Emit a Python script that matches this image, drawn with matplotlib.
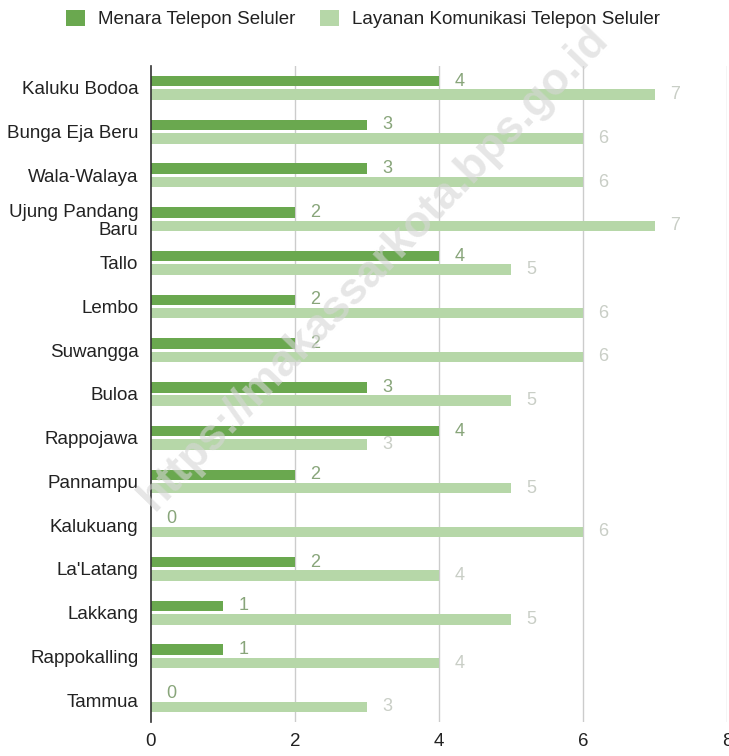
import matplotlib.pyplot as plt
import numpy as np
from matplotlib.patches import Patch

plt.rcParams['font.family'] = ['Liberation Sans', 'DejaVu Sans']

# data
kelurahan = ['Kaluku Bodoa', 'Bunga Eja Beru', 'Wala-Walaya', 'Ujung Pandang\nBaru',
             'Tallo', 'Lembo', 'Suwangga', 'Buloa', 'Rappojawa', 'Pannampu',
             'Kalukuang', "La'Latang", 'Lakkang', 'Rappokalling', 'Tammua']
menara = [4, 3, 3, 2, 4, 2, 2, 3, 4, 2, 0, 2, 1, 1, 0]
layanan = [7, 6, 6, 7, 5, 6, 6, 5, 3, 5, 6, 4, 5, 4, 3]
x_ticks = [0, 2, 4, 6, 8]

dark = '#6aa84f'
light = '#b6d7a8'

fig = plt.figure(figsize=(7.29, 7.56), dpi=100)
ax = fig.add_axes([151 / 729, 1 - 722 / 756, 576 / 729, 656 / 756])

y = np.arange(len(kelurahan))
h = 0.24
off = 0.153

ax.barh(y - off, menara, height=h, color=dark, zorder=2)
ax.barh(y + off, layanan, height=h, color=light, zorder=2)

# value labels
for yi, v in zip(y, menara):
    ax.annotate(str(v), (v, yi - off), xytext=(11, 0), textcoords='offset points',
                ha='left', va='center', fontsize=13, color='#88a57a')
for yi, v in zip(y, layanan):
    ax.annotate(str(v), (v, yi + off), xytext=(11, 0), textcoords='offset points',
                ha='left', va='center', fontsize=13, color='#c9cec6')

ax.set_xlim(0, 8)
ax.set_ylim(len(kelurahan) - 0.5, -0.5)
ax.set_xticks(x_ticks)
ax.set_xticklabels([str(t) for t in x_ticks], fontsize=13.5, color='#222222')
ax.set_yticks(y)
ax.set_yticklabels(kelurahan, fontsize=13.5, color='#222222', linespacing=1.05)
ax.tick_params(axis='both', length=0)
ax.tick_params(axis='y', pad=9)
ax.tick_params(axis='x', pad=8)

for s in ['top', 'right', 'bottom']:
    ax.spines[s].set_visible(False)
ax.spines['left'].set_color('#333333')
ax.spines['left'].set_linewidth(1.2)
ax.spines['left'].set_zorder(3)

for t in x_ticks[1:]:
    ax.axvline(t, color='#cccccc', linewidth=1, zorder=1)

handles = [Patch(facecolor=dark, label='Menara Telepon Seluler'),
           Patch(facecolor=light, label='Layanan Komunikasi Telepon Seluler')]
fig.legend(handles=handles, loc='center', bbox_to_anchor=(363 / 729, 1 - 19 / 756),
           ncol=2, frameon=False, fontsize=13.5, handlelength=1.0, handleheight=1.0,
           handletextpad=0.7, columnspacing=1.3, borderaxespad=0, labelcolor='#222222')

# watermark
fig.text(374 / 729, 1 - 268 / 756, 'https://makassarkota.bps.go.id', rotation=46,
         ha='center', va='center', fontsize=32, fontweight='bold',
         color='#d6d6d6', alpha=0.6, zorder=10)

fig.savefig('out.png', dpi=100)
